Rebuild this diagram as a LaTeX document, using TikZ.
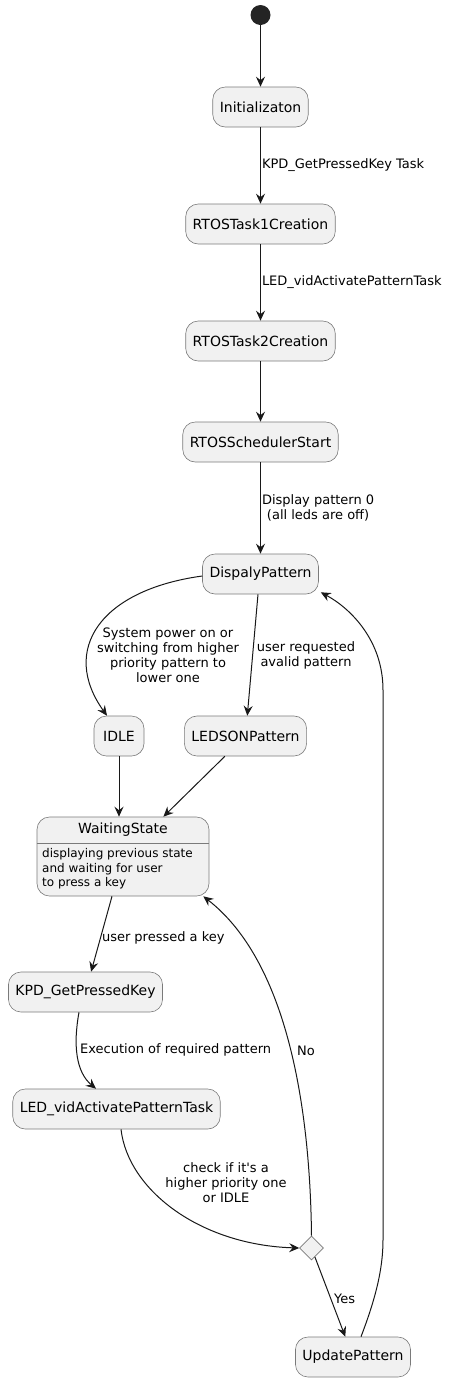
\documentclass[tikz,border=0pt]{standalone}
\usepackage{fontspec}
\setmainfont{DejaVu Sans}
\usetikzlibrary{arrows.meta,shapes.geometric}

\definecolor{umlfill}{HTML}{F1F1F1}
\definecolor{umlline}{HTML}{181818}
\definecolor{umlborder}{HTML}{7A7A7A}

\begin{document}
\begin{tikzpicture}[x=1pt, y=-1pt,
  state/.style={draw=umlborder, line width=0.6pt, fill=umlfill, rounded corners=12.5pt,
    minimum height=40pt, minimum width=50pt, inner xsep=7pt,
    font=\fontsize{14}{16}\selectfont},
  decision/.style={draw=umlborder, line width=0.6pt, fill=umlfill, diamond,
    minimum width=24pt, minimum height=24pt, inner sep=0pt},
  startdot/.style={circle, fill=umlline!95, minimum size=20pt, inner sep=0pt},
  lbl/.style={font=\fontsize{13}{15}\selectfont, align=center, inner sep=1pt},
  tr/.style={draw=umlline, line width=1pt, -{Stealth[length=10pt,width=9pt,inset=3.5pt]}}]

  \useasboundingbox (0,0) rectangle (449,1382);

  %% States
  \node[startdot] (start) at (260.5,15) {};
  \node[state] (init)   at (260.5,107) {Initializaton};
  \node[state] (task1)  at (260.5,224) {RTOSTask1Creation};
  \node[state] (task2)  at (260.5,341) {RTOSTask2Creation};
  \node[state] (sched)  at (260.5,442) {RTOSSchedulerStart};
  \node[state] (disp)   at (260.5,574) {DispalyPattern};
  \node[state] (idle)   at (119,736)   {IDLE};
  \node[state] (ledson) at (245.5,736) {LEDSONPattern};
  \node[state] (kpd)    at (85.5,992)  {KPD\_GetPressedKey};
  \node[state] (ledtask) at (116.5,1109) {LED\_vidActivatePatternTask};
  \node[decision] (check) at (311.5,1248) {};
  \node[state] (upd)    at (353,1357)  {UpdatePattern};

  % WaitingState with description compartment
  \node[state, minimum width=172pt, minimum height=79pt] (wait) at (123,856.5) {};
  \node[font=\fontsize{14}{16}\selectfont, inner sep=0pt] (waittitle) at (123,830) {WaitingState};
  \draw[draw=umlborder, line width=0.6pt] (wait.west |- 0,843) -- (wait.east |- 0,843);
  \node[font=\fontsize{12}{14.5}\selectfont, align=left, anchor=west, inner sep=0pt] (waitbody)
    at (42,869) {displaying previous state\\and waiting for user\\to press a key};

  %% Transitions
  \draw[tr] (start) -- (init);
  \draw[tr] (init) -- node[lbl, anchor=west] (lblkpd) {KPD\_GetPressedKey Task} (task1);
  \draw[tr] (task1) -- node[lbl, anchor=west] (lblled) {LED\_vidActivatePatternTask} (task2);
  \draw[tr] (task2) -- (sched);
  \draw[tr] (sched) -- node[lbl, anchor=west] (lbldisp) {Display pattern 0\\(all leds are off)} (disp);

  \draw[tr] ([yshift=-2pt]disp.west) .. controls (100,590) and (60,650) .. ([xshift=-12pt]idle.north);
  \node[lbl] (lblidle) at (168,655.5) {System power on or\\switching from higher\\priority pattern to\\lower one};
  \draw[tr] ([xshift=-2.5pt]disp.south) -- (ledson);
  \node[lbl] (lblledson) at (306,655.5) {user requested\\avalid pattern};

  \draw[tr] (idle) -- (idle |- wait.north);
  \draw[tr] (ledson) -- (wait);

  \draw[tr] (wait) -- node[lbl, anchor=west, pos=0.55] (lblkey) {user pressed a key} (kpd);
  \draw[tr] ([xshift=-6.5pt]kpd.south) .. controls (73,1045) and (76,1072) .. ([xshift=-20.5pt]ledtask.north);
  \node[lbl, anchor=west] (lblexec) at (79,1050) {Execution of required pattern};

  \draw[tr] ([xshift=4.5pt]ledtask.south) .. controls (128,1190) and (200,1245) .. (check.west);
  \node[lbl] (lblcheck) at (226,1183) {check if it\textquotesingle s a\\higher priority one\\or IDLE};

  \draw[tr] (check.north) .. controls (310,1100) and (285,960) .. ([xshift=-6pt]wait.south east);
  \node[lbl, anchor=west] (lblno) at (296,1051) {No};
  \draw[tr] (check) -- (upd);
  \node[lbl, anchor=west] (lblyes) at (333,1299) {Yes};

  \draw[tr] ([xshift=8pt]upd.north) .. controls (375,1300) and (383,1270) .. (383,1240)
    -- (383,690) .. controls (383,640) and (350,608) .. ([xshift=2pt,yshift=2pt]disp.south east);
\end{tikzpicture}
\end{document}
